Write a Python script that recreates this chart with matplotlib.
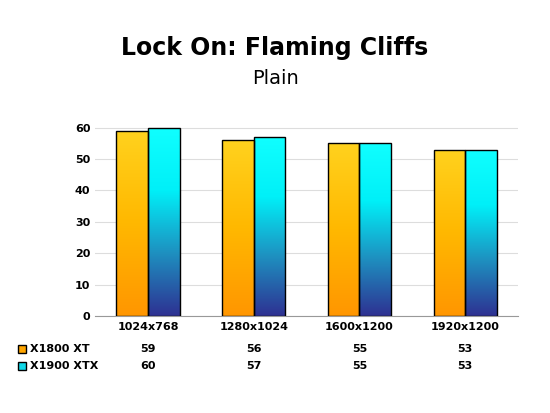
import numpy as np
import matplotlib.pyplot as plt
import matplotlib.transforms as mtransforms
from matplotlib.colors import LinearSegmentedColormap
from matplotlib.patches import Rectangle

categories = ['1024x768', '1280x1024', '1600x1200', '1920x1200']
series_names = ['X1800 XT', 'X1900 XTX']
x1800 = [59, 56, 55, 53]
x1900 = [60, 57, 55, 53]

cmaps = [LinearSegmentedColormap.from_list('o', ['#FF9600', '#FFB800', '#FFD21E']),
         LinearSegmentedColormap.from_list('c', ['#2E3192', '#1E90C0', '#00F0F8', '#10FFFF'])]
swatch = ['#FFA500', '#10D8E8']

fig = plt.figure(figsize=(5.5, 4.13), dpi=100)
ax = fig.add_axes([0.173, 0.235, 0.769, 0.46])
ax.set_xlim(-0.5, len(categories) - 0.5)
ax.set_ylim(0, 60.5)
ax.set_yticks(range(0, 61, 10))
ax.grid(axis='y', color='#dddddd', lw=0.8)
ax.set_axisbelow(True)
for s in ['top', 'right', 'left']:
    ax.spines[s].set_visible(False)
ax.spines['bottom'].set_color('#999999')
ax.tick_params(axis='y', length=0, labelsize=8)
ax.tick_params(axis='x', length=0)
ax.set_xticks([])
for lab in ax.get_yticklabels():
    lab.set_fontweight('bold')

w = 0.3
grad = np.linspace(0, 1, 256).reshape(-1, 1)
x = np.arange(len(categories))
for i, vals in enumerate([x1800, x1900]):
    bars = ax.bar(x + (i - 0.5) * w, vals, w, color='none', edgecolor='black', lw=1, zorder=3)
    for b in bars:
        x0, y0 = b.get_x(), b.get_y()
        im = ax.imshow(grad, cmap=cmaps[i], aspect='auto', origin='lower',
                       extent=[x0, x0 + b.get_width(), 0, b.get_height()], zorder=2)
        im.set_clip_path(b)

ax.set_xlim(-0.5, len(categories) - 0.5)
ax.set_ylim(0, 60.5)

trans = mtransforms.blended_transform_factory(ax.transData, fig.transFigure)
for j, c in enumerate(categories):
    fig.text(x[j], 1 - 327 / 413, c, transform=trans, ha='center', va='center', fontsize=8, fontweight='bold')
    for i, vals in enumerate([x1800, x1900]):
        fig.text(x[j], 1 - (349 + 17 * i) / 413, str(vals[j]), transform=trans,
                 ha='center', va='center', fontsize=8, fontweight='bold')
for i, name in enumerate(series_names):
    yy = 1 - (349 + 17 * i) / 413
    fig.patches.append(Rectangle((18 / 550, yy - 4 / 413), 8 / 550, 8 / 413, transform=fig.transFigure,
                                 facecolor=swatch[i], edgecolor='black', lw=1))
    fig.text(30 / 550, yy, name, ha='left', va='center', fontsize=8, fontweight='bold')

fig.text(0.5, 1 - 48 / 413, 'Lock On: Flaming Cliffs', ha='center', va='center', fontsize=17, fontweight='bold')
fig.text(0.5, 1 - 78 / 413, 'Plain', ha='center', va='center', fontsize=14)

fig.savefig('out.png', dpi=100)
